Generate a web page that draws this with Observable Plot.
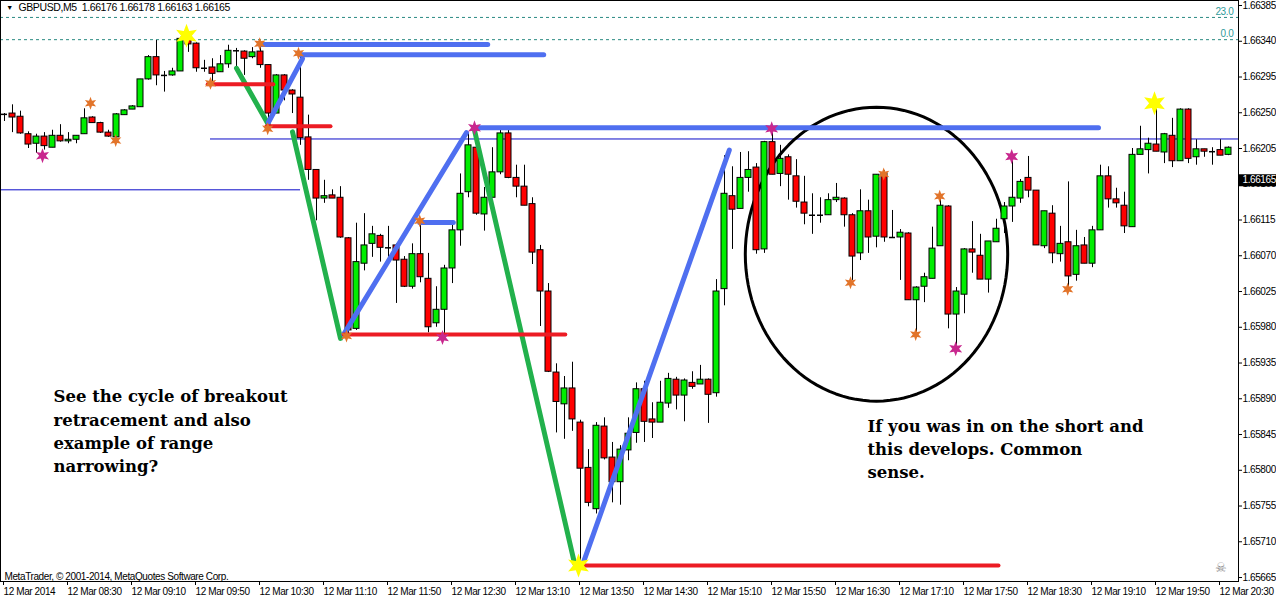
<!DOCTYPE html>
<html>
<head>
<meta charset="utf-8">
<script src="https://cdn.jsdelivr.net/npm/d3@7"></script>
<script src="https://cdn.jsdelivr.net/npm/@observablehq/plot@0.6"></script>
<style>
  html, body { margin: 0; padding: 0; background: #fff; }
  svg { display: block; }
  svg text { letter-spacing: -0.4px; }
  svg g[font-family*="DejaVu Serif"] text { letter-spacing: 0; }
</style>
</head>
<body>
<div id="chart"></div>
<script>
// GBPUSD M5 candles, 12 Mar 2014, one bar every 5 minutes from 07:50
const opens = [
  1.66248,1.66249,1.66245,1.66223,1.66211,1.66220,1.66206,1.66221,1.66214,1.66216,
  1.66223,1.66244,1.66237,1.66225,1.66219,1.66247,1.66254,1.66257,1.66292,1.66320,
  1.66297,1.66297,1.66302,1.66343,1.66337,1.66306,1.66307,1.66301,1.66311,1.66328,
  1.66327,1.66320,1.66327,1.66310,1.66249,1.66297,1.66278,1.66269,1.66219,1.66178,
  1.66142,1.66146,1.66143,1.66092,1.65978,1.66060,1.66085,1.66095,1.66080,1.66083,
  1.66065,1.66031,1.66072,1.66041,1.65985,1.66002,1.66054,1.66102,1.66150,1.66206,
  1.66122,1.66143,1.66175,1.66224,1.66168,1.66157,1.66135,1.66077,1.66025,1.65923,
  1.65883,1.65903,1.65860,1.65803,1.65751,1.65855,1.65816,1.65785,1.65825,1.65847,
  1.65902,1.65864,1.65860,1.65884,1.65914,1.65894,1.65910,1.65908,1.65914,1.65897,
  1.66028,1.66145,1.66129,1.66168,1.66181,1.66078,1.66213,1.66173,1.66194,1.66170,
  1.66137,1.66121,1.66121,1.66121,1.66140,1.66142,1.66121,1.66073,1.66126,1.66094,
  1.66173,1.66093,1.66093,1.66098,1.66014,1.66031,1.66041,1.66082,1.66132,1.65996,
  1.66021,1.66078,1.66070,1.66040,1.66087,1.66116,1.66132,1.66142,1.66168,1.66152,
  1.66082,1.66123,1.66072,1.66087,1.66046,1.66083,1.66060,1.66102,1.66170,1.66141,
  1.66133,1.66106,1.66197,1.66203,1.66210,1.66200,1.66221,1.66189,1.66254,1.66194,
  1.66204,1.66201,1.66203,1.66197
];
const highs = [
  1.66249,1.66260,1.66252,1.66226,1.66223,1.66225,1.66228,1.66235,1.66225,1.66221,
  1.66255,1.66245,1.66238,1.66228,1.66249,1.66254,1.66259,1.66292,1.66322,1.66341,
  1.66302,1.66306,1.66345,1.66350,1.66338,1.66316,1.66318,1.66322,1.66335,1.66331,
  1.66328,1.66332,1.66336,1.66310,1.66298,1.66298,1.66279,1.66322,1.66247,1.66178,
  1.66165,1.66153,1.66157,1.66093,1.66111,1.66123,1.66107,1.66097,1.66107,1.66085,
  1.66069,1.66085,1.66114,1.66073,1.66031,1.66058,1.66111,1.66173,1.66224,1.66231,
  1.66156,1.66206,1.66230,1.66230,1.66184,1.66184,1.66143,1.66083,1.66035,1.65934,
  1.65918,1.65936,1.65863,1.65826,1.65860,1.65866,1.65835,1.65831,1.65866,1.65910,
  1.65912,1.65885,1.65912,1.65922,1.65917,1.65915,1.65924,1.65932,1.65915,1.66040,
  1.66196,1.66182,1.66200,1.66201,1.66186,1.66214,1.66231,1.66209,1.66197,1.66191,
  1.66170,1.66148,1.66143,1.66148,1.66161,1.66143,1.66123,1.66153,1.66140,1.66172,
  1.66177,1.66127,1.66103,1.66099,1.66031,1.66048,1.66106,1.66143,1.66133,1.66030,
  1.66079,1.66113,1.66097,1.66088,1.66116,1.66137,1.66194,1.66166,1.66195,1.66152,
  1.66126,1.66133,1.66107,1.66163,1.66102,1.66093,1.66107,1.66184,1.66182,1.66155,
  1.66150,1.66205,1.66233,1.66218,1.66255,1.66224,1.66243,1.66255,1.66255,1.66216,
  1.66204,1.66206,1.66216,1.66207
];
const lows = [
  1.66239,1.66225,1.66223,1.66205,1.66199,1.66203,1.66206,1.66213,1.66211,1.66211,
  1.66223,1.66237,1.66224,1.66219,1.66215,1.66247,1.66254,1.66257,1.66291,1.66284,
  1.66276,1.66296,1.66302,1.66326,1.66301,1.66301,1.66288,1.66301,1.66306,1.66306,
  1.66297,1.66318,1.66306,1.66233,1.66249,1.66265,1.66249,1.66209,1.66165,1.66114,
  1.66136,1.66142,1.66092,1.65967,1.65976,1.66051,1.66068,1.66062,1.66068,1.66010,
  1.66030,1.66028,1.66036,1.65973,1.65980,1.65968,1.66035,1.66082,1.66143,1.66121,
  1.66101,1.66143,1.66172,1.66167,1.66143,1.66133,1.66059,1.65981,1.65923,1.65847,
  1.65839,1.65849,1.65680,1.65754,1.65745,1.65813,1.65759,1.65756,1.65812,1.65834,
  1.65835,1.65840,1.65860,1.65878,1.65876,1.65861,1.65902,1.65908,1.65859,1.65892,
  1.66007,1.66078,1.66129,1.66150,1.66072,1.66073,1.66172,1.66157,1.66140,1.66130,
  1.66109,1.66097,1.66111,1.66121,1.66137,1.66106,1.66039,1.66064,1.66073,1.66080,
  1.66087,1.66093,1.66039,1.66014,1.65973,1.66011,1.66041,1.66082,1.65978,1.65954,
  1.65997,1.66048,1.66040,1.66023,1.66087,1.66098,1.66112,1.66136,1.66143,1.66083,
  1.66079,1.66060,1.66062,1.66030,1.66038,1.66060,1.66055,1.66102,1.66130,1.66130,
  1.66098,1.66106,1.66197,1.66173,1.66201,1.66186,1.66181,1.66189,1.66186,1.66184,
  1.66194,1.66184,1.66196,1.66196
];
const closes = [
  1.66248,1.66244,1.66224,1.66210,1.66220,1.66208,1.66221,1.66214,1.66216,1.66221,
  1.66243,1.66237,1.66225,1.66220,1.66248,1.66253,1.66258,1.66292,1.66320,1.66297,
  1.66297,1.66302,1.66343,1.66336,1.66306,1.66306,1.66299,1.66311,1.66328,1.66328,
  1.66318,1.66326,1.66310,1.66249,1.66297,1.66278,1.66273,1.66218,1.66178,1.66142,
  1.66145,1.66142,1.66093,1.65976,1.66062,1.66083,1.66097,1.66080,1.66080,1.66064,
  1.66031,1.66072,1.66043,1.65980,1.66002,1.66054,1.66102,1.66148,1.66209,1.66123,
  1.66143,1.66175,1.66224,1.66168,1.66157,1.66133,1.66074,1.66025,1.65924,1.65886,
  1.65903,1.65864,1.65802,1.65759,1.65856,1.65815,1.65785,1.65826,1.65846,1.65902,
  1.65861,1.65860,1.65885,1.65915,1.65894,1.65913,1.65905,1.65914,1.65895,1.66025,
  1.66148,1.66128,1.66168,1.66178,1.66077,1.66213,1.66172,1.66192,1.66172,1.66138,
  1.66123,1.66121,1.66121,1.66140,1.66143,1.66121,1.66069,1.66126,1.66093,1.66172,
  1.66093,1.66093,1.66099,1.66014,1.66030,1.66043,1.66079,1.66133,1.65996,1.66025,
  1.66078,1.66074,1.66040,1.66088,1.66104,1.66132,1.66143,1.66163,1.66152,1.66083,
  1.66126,1.66073,1.66085,1.66044,1.66082,1.66060,1.66102,1.66170,1.66141,1.66136,
  1.66107,1.66197,1.66204,1.66211,1.66201,1.66223,1.66189,1.66254,1.66192,1.66204,
  1.66201,1.66201,1.66196,1.66206
];

// Time axis: a label every 8 bars (40 minutes)
const timeTicks = [0,8,16,24,32,40,48,56,64,72,80,88,96,104,112,120,128,136,144,152];
const timeLabels = [
  "12 Mar 2014","12 Mar 08:30","12 Mar 09:10","12 Mar 09:50","12 Mar 10:30",
  "12 Mar 11:10","12 Mar 11:50","12 Mar 12:30","12 Mar 13:10","12 Mar 13:50",
  "12 Mar 14:30","12 Mar 15:10","12 Mar 15:50","12 Mar 16:30","12 Mar 17:10",
  "12 Mar 17:50","12 Mar 18:30","12 Mar 19:10","12 Mar 19:50","12 Mar 20:30"
];
// Price axis
const priceTicks = [
  1.66385,1.66340,1.66295,1.66250,1.66205,1.66160,1.66115,1.66070,1.66025,
  1.65980,1.65935,1.65890,1.65845,1.65800,1.65755,1.65710,1.65665
];
const symbolName = "GBPUSD,M5";
const lastBarOHLC = [1.66176, 1.66178, 1.66163, 1.66165];
const bidPrice = 1.66165;

// Fibonacci levels
const fibLabels = ["23.0", "0.0"];
const fibPrices = [1.66370, 1.66342];

// Drawn trend lines: start/end bar and price, grouped by colour
const segKind = ["green","green","green",
                 "blue","blue","blue","blue","blue","blue","blue",
                 "red","red","red","red"];
const segX1 = [29, 36, 58.75,  33, 32, 37, 42.4, 51.9, 58.9, 72.4,  25.4, 32.75, 42.4, 71.5];
const segY1 = [1.66306, 1.66226, 1.66228,  1.66238, 1.66336, 1.66323, 1.65971, 1.66112, 1.66231, 1.65685,
               1.66286, 1.66233, 1.65971, 1.65680];
const segX2 = [33, 42, 71.25,  37.25, 60.4, 67.4, 57.75, 56.1, 136.75, 90.6,  33.6, 40.75, 70.1, 124.25];
const segY2 = [1.66235, 1.65966, 1.65683,  1.66318, 1.66336, 1.66323, 1.66225, 1.66112, 1.66231, 1.66203,
               1.66286, 1.66233, 1.65971, 1.65680];

// Thin horizontal levels
const levelPrices = [1.66217, 1.66153];
const levelX1 = [25.75, -0.5];
const levelX2 = [154.25, 37];

// Swing markers
const starKind = ["pink","orange","orange","yellow","orange","orange","orange","orange",
                  "orange","orange","pink","pink","yellow","pink","orange","orange",
                  "orange","orange","pink","pink","orange","yellow"];
const starX = [4.75,10.75,13.9,22.75,25.75,31.9,32.9,36.75,42.75,51.9,54.75,58.75,
               71.75,95.9,105.75,109.9,113.9,116.9,118.9,125.9,132.9,143.75];
const starPrice = [1.66196,1.66262,1.66215,1.66347,1.66287,1.66337,1.66230,1.66325,
                   1.65969,1.66114,1.65967,1.66231,1.65680,1.66230,1.66036,1.66173,
                   1.65971,1.66145,1.65953,1.66195,1.66028,1.66262];

// Ring around the narrowing range
const ringCenterX = 109;
const ringCenterPrice = 1.66072;
const ringRadiusBars = 16.4;
const ringRadiusPrice = 0.00185;

// Notes
const noteText = [
  "See the cycle of breakout\nretracement and also\nexample of range\nnarrowing?",
  "If you was in on the short and\nthis develops. Common\nsense."
];
const noteX = [6.125, 107.875];
const notePrice = [1.65906, 1.65869];

const footerText = "MetaTrader, \u00a9 2001-2014, MetaQuotes Software Corp.";

// ---- build rows ----
const bars = opens.map((o, i) => ({i, open: o, high: highs[i], low: lows[i], close: closes[i]}));
const bulls = bars.filter(d => d.close > d.open);
const bears = bars.filter(d => d.close < d.open);
const dojis = bars.filter(d => d.close === d.open);

const segs = segKind.map((k, j) => ({k, x1: segX1[j], y1: segY1[j], x2: segX2[j], y2: segY2[j]}));
const segColor = {green: "#22b14c", blue: "#4f6ff0", red: "#ec1c24"};
const segWidth = {green: 5, blue: 5, red: 4};

const levels = levelPrices.map((p, j) => ({p, x1: levelX1[j], x2: levelX2[j]}));
const fibs = fibPrices.map((p, j) => ({p, label: fibLabels[j]}));
const stars = starKind.map((k, j) => ({k, x: starX[j], p: starPrice[j]}));
const starColor = {orange: "#e2742a", pink: "#c8288e", yellow: "#ffff00"};
const starR = {orange: 6.5, pink: 7.5, yellow: 12};

const ring = d3.range(0, 361, 3).map(a => {
  const t = a * Math.PI / 180;
  return {x: ringCenterX + ringRadiusBars * Math.cos(t), p: ringCenterPrice + ringRadiusPrice * Math.sin(t)};
});

const notes = noteText.map((t, j) => ({t, x: noteX[j], p: notePrice[j]}));

// six-pointed star symbol
const star6 = {
  draw(ctx, size) {
    const R = Math.sqrt(size / Math.PI);
    const r = R * 0.45;
    for (let k = 0; k < 12; k++) {
      const rad = k % 2 === 0 ? R : r;
      const a = -Math.PI / 2 + k * Math.PI / 6;
      const px = rad * Math.cos(a), py = rad * Math.sin(a);
      if (k === 0) ctx.moveTo(px, py); else ctx.lineTo(px, py);
    }
    ctx.closePath();
  }
};
const starMarks = Object.keys(starColor).map(k =>
  Plot.dot(stars.filter(d => d.k === k), {x: "x", y: "p", symbol: star6, r: starR[k], fill: starColor[k], stroke: "none"})
);

const half = 0.375;
const axisFont = "'Liberation Sans', Arial, sans-serif";

const chart = Plot.plot({
  width: 1276,
  height: 599,
  marginLeft: 0,
  marginRight: 38,
  marginTop: 0,
  marginBottom: 18,
  style: {fontFamily: axisFont, fontSize: "10px", background: "#fff", color: "#000"},
  x: {domain: [-0.5, 154.25], axis: null},
  y: {domain: [1.6566, 1.663913], axis: null},
  marks: [
    // fib levels
    Plot.ruleY(fibs, {y: "p", stroke: "#2a8a82", strokeDasharray: "3,3"}),
    Plot.text(fibs, {x: 153.6, y: "p", text: "label", textAnchor: "end", dy: -6, fill: "#2f9a9a", fontSize: 10}),
    // thin levels
    Plot.ruleY(levels, {y: "p", x1: "x1", x2: "x2", stroke: "#0a0ac8", strokeWidth: 1}),
    // ring
    Plot.line(ring, {x: "x", y: "p", stroke: "#000", strokeWidth: 3, curve: "linear-closed"}),
    // candles
    Plot.ruleX(bars, {x: "i", y1: "low", y2: "high", stroke: "#000", strokeWidth: 1}),
    Plot.rect(bulls, {x1: d => d.i - half, x2: d => d.i + half, y1: "open", y2: "close", fill: "#00ee00", stroke: "#000", strokeWidth: 1}),
    Plot.rect(bears, {x1: d => d.i - half, x2: d => d.i + half, y1: "open", y2: "close", fill: "#ff0000", stroke: "#000", strokeWidth: 1}),
    Plot.ruleY(dojis, {y: "open", x1: d => d.i - half, x2: d => d.i + half, stroke: "#000", strokeWidth: 1.5}),
    // trend lines
    Plot.link(segs, {x1: "x1", y1: "y1", x2: "x2", y2: "y2",
      stroke: d => segColor[d.k], strokeWidth: d => segWidth[d.k], strokeLinecap: "round"}),
    // swing markers
    ...starMarks,
    // notes
    Plot.text(notes, {x: "x", y: "p", text: "t", textAnchor: "start", lineAnchor: "top",
      fontFamily: "'DejaVu Serif', serif", fontWeight: "bold", fontSize: 16.5, lineHeight: 1.4, fill: "#000"}),
    // header & footer
    Plot.text(["\u25bc"], {frameAnchor: "top-left", dx: 9, dy: 5, textAnchor: "middle", fontSize: 7, fill: "#000"}),
    Plot.text([`${symbolName}  ${lastBarOHLC.map(v => v.toFixed(5)).join(" ")}`],
      {frameAnchor: "top-left", dx: 18, dy: 3, textAnchor: "start", fontSize: 10.5, fill: "#000"}),
    Plot.text([footerText], {frameAnchor: "bottom-left", dx: 4, dy: -2, textAnchor: "start", lineAnchor: "bottom", fontSize: 10, fill: "#000"}),
    Plot.text(["\u2620"], {frameAnchor: "bottom-right", dx: -18, dy: -14, textAnchor: "middle", lineAnchor: "middle", fontSize: 13, fill: "#808080"}),
    // axes
    Plot.frame({stroke: "#000"}),
    Plot.axisY(priceTicks, {anchor: "right", tickSize: 3, tickPadding: 1, label: null,
      tickFormat: d => d.toFixed(5), fontSize: 10, fontVariant: "normal"}),
    Plot.axisX(timeTicks, {anchor: "bottom", tickSize: 4, tickPadding: 2, label: null,
      tickFormat: d => timeLabels[d / 8], textAnchor: "start", dx: -1, fontSize: 10, fontVariant: "normal"}),
    // bid price box
    Plot.ruleY([bidPrice], {x1: 154.25, x2: 159.5, stroke: "#000", strokeWidth: 12}),
    Plot.text([bidPrice], {x: 154.75, y: d => d, text: d => d.toFixed(5), textAnchor: "start", fill: "#fff", fontSize: 10})
  ]
});

document.getElementById("chart").appendChild(chart);
</script>
</body>
</html>
